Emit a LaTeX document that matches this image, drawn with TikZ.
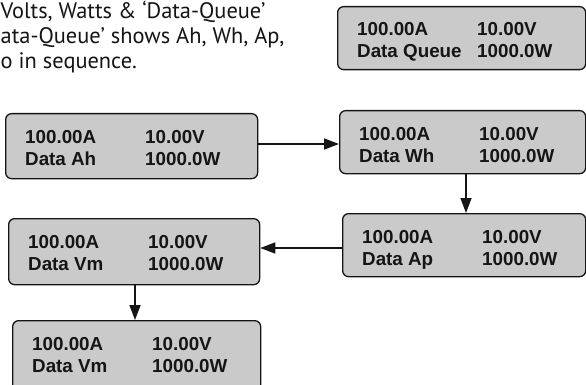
\documentclass[tikz,border=0pt]{standalone}
\usepackage{fontspec}
\setsansfont{Liberation Sans}
\newfontfamily\capfont{PT Sans}
\usetikzlibrary{arrows.meta,calc}
\definecolor{lcdfill}{HTML}{CACACA}
\definecolor{ink}{HTML}{151515}
\tikzset{
  lcd/.style={draw=ink, line width=1.3pt, rounded corners=6pt, fill=lcdfill, inner sep=0pt, anchor=north west},
  val/.style={inner sep=0pt, anchor=base west, text=ink, font=\sffamily\bfseries\fontsize{18.8}{20}\selectfont},
  flow/.style={draw=ink, line width=1.5pt, -{Triangle[length=15pt,width=11pt]}},
  captext/.style={inner sep=0pt, anchor=base west, text=ink, font=\capfont\fontsize{22.4}{25}\selectfont}
}
\newcommand\lcdpanel[6]{% name, left, top, width, height, label
  \node[lcd, minimum width=#4pt, minimum height=#5pt] (#1) at (#2,#3) {};
  \node[val] (#1-amp) at ($(#1.north west)+(20,30)$) {100.00A};
  \node[val] (#1-volt) at ($(#1.north west)+(140,30)$) {10.00V};
  \node[val] (#1-lbl) at ($(#1.north west)+(20,52)$) {#6};
  \node[val] (#1-watt) at ($(#1.north west)+(140,52)$) {1000.0W};
}
\begin{document}
\begin{tikzpicture}[x=1pt,y=-1pt]
\useasboundingbox (0,0) rectangle (586,385);
\clip (0,0) rectangle (586,385);
\fill[white] (0,0) rectangle (586,385);
% caption text
\node[captext] (l1) at (0.5,19) {Volts, Watts \& ‘Data-Queue’};
\node[captext] (l2) at (0.5,44) {ata-Queue’ shows Ah, Wh, Ap,};
\node[captext] (l3) at (0.5,69) {o in sequence.};
% panels
\lcdpanel{queue}{337}{6}{248}{63}{Data Queue}
\lcdpanel{ah}{5}{113}{252}{65}{Data Ah}
\lcdpanel{wh}{339}{110}{246}{63}{Data Wh}
\lcdpanel{ap}{342}{213}{243}{63}{Data Ap}
\lcdpanel{vma}{8}{218}{251}{66}{Data Vm}
\lcdpanel{vmb}{12}{320}{248}{80}{Data Vm}
% connectors
\draw[flow] ($(ah.north east)+(0,31)$) coordinate (ahout) -- (ahout -| wh.west);
\draw[flow] ($(wh.south west)+(127,0)$) coordinate (whout) -- (whout |- ap.north);
\draw[flow] ($(ap.north west)+(0,35)$) coordinate (apout) -- (apout -| vma.east);
\draw[flow] ($(vma.south west)+(127,0)$) coordinate (vmout) -- (vmout |- vmb.north);
\end{tikzpicture}
\end{document}
